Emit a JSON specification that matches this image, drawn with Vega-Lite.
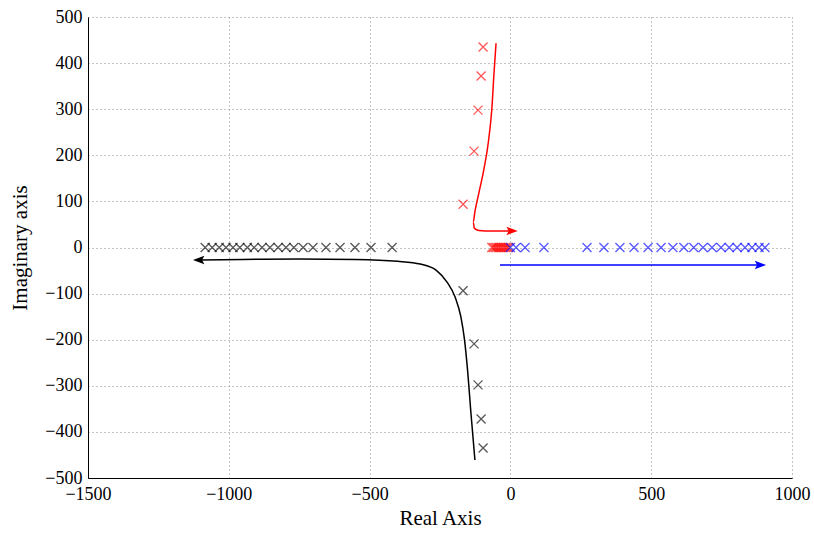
{
  "$schema": "https://vega.github.io/schema/vega-lite/v6.json",
  "width": 704,
  "height": 461,
  "autosize": {"type": "none"},
  "padding": {"left": 88, "top": 17, "right": 22, "bottom": 55},
  "background": "white",
  "config": {
    "font": "Liberation Serif",
    "view": {"stroke": null},
    "axis": {
      "labelFont": "Liberation Serif",
      "titleFont": "Liberation Serif",
      "labelFontSize": 18,
      "titleFontSize": 21,
      "titleFontWeight": "normal",
      "labelColor": "#000",
      "titleColor": "#000",
      "domainColor": "#000",
      "domainWidth": 1,
      "ticks": false,
      "format": "d",
      "labelFlush": false,
      "labelOverlap": false,
      "labelBound": false,
      "grid": true,
      "gridColor": "#8a8a8a",
      "gridDash": [1, 3],
      "gridWidth": 1
    }
  },
  "datasets": {
    "markers": [
      {"x": -97, "y": 435, "series": "red"},
      {"x": -104, "y": 372, "series": "red"},
      {"x": -115, "y": 298, "series": "red"},
      {"x": -129, "y": 209, "series": "red"},
      {"x": -168, "y": 94, "series": "red"},
      {"x": -66, "y": 0, "series": "red"},
      {"x": -60, "y": 0, "series": "red"},
      {"x": -54, "y": 0, "series": "red"},
      {"x": -48, "y": 0, "series": "red"},
      {"x": -42, "y": 0, "series": "red"},
      {"x": -36, "y": 0, "series": "red"},
      {"x": -30, "y": 0, "series": "red"},
      {"x": -24, "y": 0, "series": "red"},
      {"x": -18, "y": 0, "series": "red"},
      {"x": -12, "y": 0, "series": "red"},
      {"x": -6, "y": 0, "series": "red"},
      {"x": -168, "y": -94, "series": "black"},
      {"x": -129, "y": -209, "series": "black"},
      {"x": -115, "y": -298, "series": "black"},
      {"x": -104, "y": -372, "series": "black"},
      {"x": -97, "y": -435, "series": "black"},
      {"x": -420, "y": 0, "series": "black"},
      {"x": -495, "y": 0, "series": "black"},
      {"x": -552, "y": 0, "series": "black"},
      {"x": -605, "y": 0, "series": "black"},
      {"x": -655, "y": 0, "series": "black"},
      {"x": -701, "y": 0, "series": "black"},
      {"x": -736, "y": 0, "series": "black"},
      {"x": -769, "y": 0, "series": "black"},
      {"x": -797, "y": 0, "series": "black"},
      {"x": -825, "y": 0, "series": "black"},
      {"x": -854, "y": 0, "series": "black"},
      {"x": -882, "y": 0, "series": "black"},
      {"x": -910, "y": 0, "series": "black"},
      {"x": -934, "y": 0, "series": "black"},
      {"x": -961, "y": 0, "series": "black"},
      {"x": -985, "y": 0, "series": "black"},
      {"x": -1010, "y": 0, "series": "black"},
      {"x": -1034, "y": 0, "series": "black"},
      {"x": -1059, "y": 0, "series": "black"},
      {"x": -1084, "y": 0, "series": "black"},
      {"x": 0, "y": 0, "series": "blue"},
      {"x": 20, "y": 0, "series": "blue"},
      {"x": 52, "y": 0, "series": "blue"},
      {"x": 119, "y": 0, "series": "blue"},
      {"x": 272, "y": 0, "series": "blue"},
      {"x": 332, "y": 0, "series": "blue"},
      {"x": 389, "y": 0, "series": "blue"},
      {"x": 439, "y": 0, "series": "blue"},
      {"x": 489, "y": 0, "series": "blue"},
      {"x": 535, "y": 0, "series": "blue"},
      {"x": 577, "y": 0, "series": "blue"},
      {"x": 616, "y": 0, "series": "blue"},
      {"x": 651, "y": 0, "series": "blue"},
      {"x": 684, "y": 0, "series": "blue"},
      {"x": 716, "y": 0, "series": "blue"},
      {"x": 748, "y": 0, "series": "blue"},
      {"x": 777, "y": 0, "series": "blue"},
      {"x": 805, "y": 0, "series": "blue"},
      {"x": 833, "y": 0, "series": "blue"},
      {"x": 858, "y": 0, "series": "blue"},
      {"x": 883, "y": 0, "series": "blue"},
      {"x": 904, "y": 0, "series": "blue"}
    ],
    "curves": [
      {"series": "red", "i": 1, "x": -51, "y": 443},
      {"series": "red", "i": 2, "x": -58, "y": 380},
      {"series": "red", "i": 3, "x": -66, "y": 300},
      {"series": "red", "i": 4, "x": -78, "y": 230},
      {"series": "red", "i": 5, "x": -94, "y": 170},
      {"series": "red", "i": 6, "x": -112, "y": 118},
      {"series": "red", "i": 7, "x": -126, "y": 78},
      {"series": "red", "i": 8, "x": -132, "y": 55},
      {"series": "red", "i": 9, "x": -128, "y": 42},
      {"series": "red", "i": 10, "x": -112, "y": 37},
      {"series": "red", "i": 11, "x": -90, "y": 36},
      {"series": "red", "i": 12, "x": -40, "y": 36},
      {"series": "red", "i": 13, "x": 6, "y": 36},
      {"series": "black", "i": 1, "x": -126, "y": -461},
      {"series": "black", "i": 2, "x": -140, "y": -360},
      {"series": "black", "i": 3, "x": -153, "y": -260},
      {"series": "black", "i": 4, "x": -163, "y": -200},
      {"series": "black", "i": 5, "x": -176, "y": -150},
      {"series": "black", "i": 6, "x": -196, "y": -108},
      {"series": "black", "i": 7, "x": -225, "y": -75},
      {"series": "black", "i": 8, "x": -262, "y": -50},
      {"series": "black", "i": 9, "x": -320, "y": -36},
      {"series": "black", "i": 10, "x": -400, "y": -30},
      {"series": "black", "i": 11, "x": -550, "y": -26},
      {"series": "black", "i": 12, "x": -750, "y": -25},
      {"series": "black", "i": 13, "x": -950, "y": -26},
      {"series": "black", "i": 14, "x": -1107, "y": -27},
      {"series": "blue", "i": 1, "x": -37, "y": -38},
      {"series": "blue", "i": 2, "x": 888, "y": -38}
    ],
    "heads": [
      {"series": "red", "dir": "right", "x": 6, "y": 36},
      {"series": "blue", "dir": "right", "x": 888, "y": -38},
      {"series": "black", "dir": "left", "x": -1107, "y": -27}
    ]
  },
  "layer": [
    {
      "data": {"name": "curves"},
      "mark": {"type": "line", "strokeWidth": 1.5, "interpolate": "monotone"},
      "encoding": {
        "x": {"field": "x", "type": "quantitative", "scale": {"domain": [-1500, 1000], "nice": false, "zero": false},
              "axis": {"title": "Real Axis", "values": [-1500, -1000, -500, 0, 500, 1000], "labelPadding": 7, "titlePadding": 4}},
        "y": {"field": "y", "type": "quantitative", "scale": {"domain": [-500, 500], "nice": false, "zero": false},
              "axis": {"title": "Imaginary axis", "values": [-500, -400, -300, -200, -100, 0, 100, 200, 300, 400, 500], "labelPadding": 6, "titlePadding": 14}},
        "order": {"field": "i", "type": "quantitative"},
        "color": {"field": "series", "type": "nominal", "legend": null,
                  "scale": {"domain": ["red", "black", "blue"], "range": ["#ff0000", "#000000", "#0000ff"]}}
      }
    },
    {
      "data": {"name": "heads"},
      "transform": [{"filter": "datum.dir === 'right'"}],
      "mark": {"type": "point", "filled": true, "opacity": 1, "size": 130, "shape": "M1,0L-1,-0.75L-0.6,0L-1,0.75Z"},
      "encoding": {
        "x": {"field": "x", "type": "quantitative"},
        "y": {"field": "y", "type": "quantitative"},
        "color": {"field": "series", "type": "nominal", "legend": null}
      }
    },
    {
      "data": {"name": "heads"},
      "transform": [{"filter": "datum.dir === 'left'"}],
      "mark": {"type": "point", "filled": true, "opacity": 1, "size": 130, "shape": "M-1,0L1,-0.75L0.6,0L1,0.75Z"},
      "encoding": {
        "x": {"field": "x", "type": "quantitative"},
        "y": {"field": "y", "type": "quantitative"},
        "color": {"field": "series", "type": "nominal", "legend": null}
      }
    },
    {
      "data": {"name": "markers"},
      "mark": {"type": "point", "filled": false, "opacity": 0.65, "strokeWidth": 1.3, "size": 81, "shape": "M-1,-1L1,1M-1,1L1,-1"},
      "encoding": {
        "x": {"field": "x", "type": "quantitative"},
        "y": {"field": "y", "type": "quantitative"},
        "color": {"field": "series", "type": "nominal", "legend": null}
      }
    }
  ]
}
